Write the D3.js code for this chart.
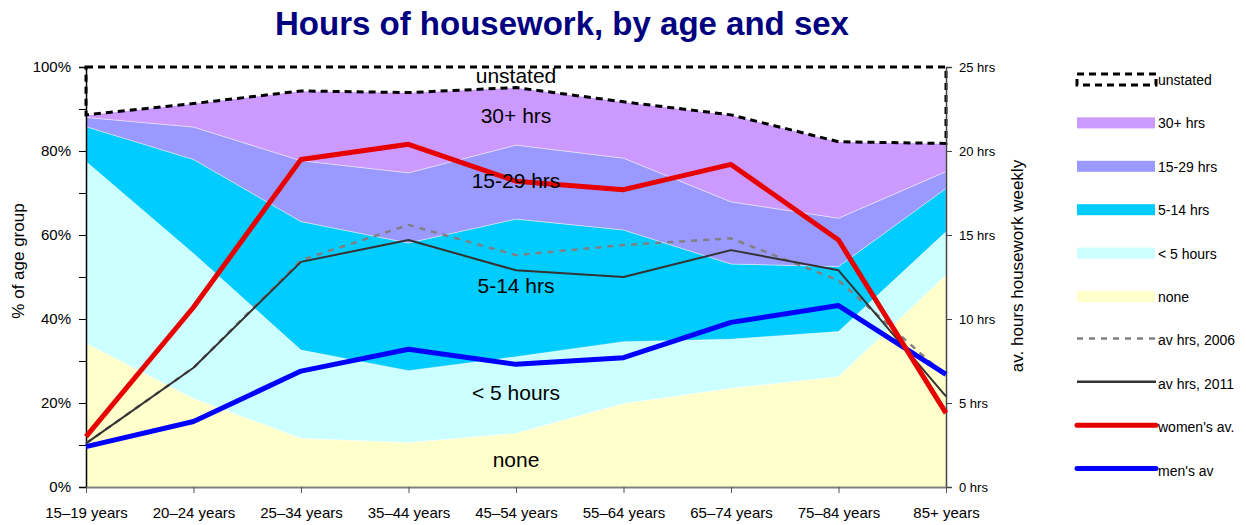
<!DOCTYPE html>
<html>
<head>
<meta charset="utf-8">
<script src="https://cdn.jsdelivr.net/npm/d3@7"></script>
<style>
  body { margin: 0; background: #fff; }
  svg { font-family: "Liberation Sans", Arial, sans-serif; }
</style>
</head>
<body>
<div id="chart"></div>
<script>
const ages = ["15–19 years", "20–24 years", "25–34 years", "35–44 years", "45–54 years",
  "55–64 years", "65–74 years", "75–84 years", "85+ years"];

// % of age group, by weekly hours of housework
const none = [34.2, 21.1, 11.6, 10.6, 12.8, 19.9, 23.5, 26.3, 50.5];
const under5 = [43.3, 34.5, 21.0, 17.1, 18.2, 14.7, 11.7, 10.7, 10.3];
const hrs5to14 = [8.3, 22.4, 30.6, 30.4, 32.8, 26.6, 17.9, 15.5, 10.3];
const hrs15to29 = [2.2, 7.7, 14.5, 16.7, 17.6, 17.1, 14.8, 11.5, 4.0];
const hrs30plus = [0.6, 5.6, 16.6, 19.1, 13.7, 13.4, 20.7, 18.2, 6.7];
const unstated = [11.4, 8.7, 5.7, 6.1, 4.9, 8.3, 11.4, 17.8, 18.2];

// average weekly hours
const avg2006 = [2.6, 7.1, 13.5, 15.6, 13.8, 14.4, 14.8, 12.3, 6.6];
const avg2011 = [2.6, 7.1, 13.4, 14.7, 12.9, 12.5, 14.1, 12.9, 5.4];
const womenAvg = [3.0, 10.7, 19.5, 20.4, 18.2, 17.7, 19.2, 14.7, 4.4];
const menAvg = [2.4, 3.9, 6.9, 8.2, 7.3, 7.7, 9.8, 10.8, 6.7];

const leftTicks = [0, 10, 20, 30, 40, 50, 60, 70, 80, 90, 100];
const rightTicks = [0, 5, 10, 15, 20, 25];

const bands = [
  {key: "none", label: "none", values: none, color: "#ffffcc"},
  {key: "under5", label: "< 5 hours", values: under5, color: "#ccffff"},
  {key: "h5", label: "5-14 hrs", values: hrs5to14, color: "#00ccff"},
  {key: "h15", label: "15-29 hrs", values: hrs15to29, color: "#9999ff"},
  {key: "h30", label: "30+ hrs", values: hrs30plus, color: "#cc99ff"},
  {key: "unstated", label: "unstated", values: unstated, color: "#ffffff"}
];

const lines = [
  {label: "av hrs, 2006", values: avg2006, color: "#808080", width: 2.5, dash: "6,6"},
  {label: "av hrs, 2011", values: avg2011, color: "#333333", width: 2, dash: null},
  {label: "men's av", values: menAvg, color: "#0000ff", width: 5, dash: null},
  {label: "women's av.", values: womenAvg, color: "#e60000", width: 5, dash: null}
];

const width = 1246, height = 525;
const margins = {top: 67, right: 300, bottom: 38, left: 86};

const svg = d3.select("#chart")
  .append("svg")
  .attr("width", width)
  .attr("height", height);

const xScale = d3.scalePoint()
  .domain(ages)
  .range([margins.left, width - margins.right]);

const yScale = d3.scaleLinear()
  .domain([0, 100])
  .range([height - margins.bottom, margins.top]);

const y2Scale = d3.scaleLinear()
  .domain([0, 25])
  .range([height - margins.bottom, margins.top]);

const table = ages.map((age, i) => {
  const row = {age: age};
  bands.forEach(b => row[b.key] = b.values[i]);
  return row;
});

const series = d3.stack()
  .keys(bands.map(b => b.key))(table);

const area = d3.area()
  .x(d => xScale(d.data.age))
  .y0(d => yScale(d[0]))
  .y1(d => yScale(d[1]));

svg.append("g")
  .selectAll("path")
  .data(series.slice(0, 5))
  .join("path")
    .attr("d", area)
    .attr("fill", (d, i) => bands[i].color)
    .attr("stroke", "rgba(255,255,255,0.7)")
    .attr("stroke-width", 0.6);

// unstated: white band with a dashed outline
svg.append("path")
  .datum(series[5])
  .attr("d", d => area(d) + "Z")
  .attr("fill", "#fff")
  .attr("stroke", "#000")
  .attr("stroke-width", 3)
  .attr("stroke-dasharray", "7,5");

// axes
const leftAxis = d3.axisLeft(yScale)
  .tickValues(leftTicks)
  .tickSize(7)
  .tickPadding(8)
  .tickFormat(d => d % 20 == 0 ? d + "%" : "");

svg.append("g")
    .attr("transform", `translate(${margins.left},0)`)
  .call(leftAxis)
  .call(g => g.select(".domain").attr("stroke-width", 1.5))
  .call(g => g.selectAll("text").style("font-size", "15px").attr("fill", "#000"));

const rightAxis = d3.axisRight(y2Scale)
  .tickValues(rightTicks)
  .tickSize(6)
  .tickPadding(7)
  .tickFormat(d => d + " hrs");

svg.append("g")
    .attr("transform", `translate(${width - margins.right},0)`)
  .call(rightAxis)
  .call(g => g.select(".domain").attr("stroke", "#444").attr("stroke-width", 1.5))
  .call(g => g.selectAll("line").attr("stroke", "#444"))
  .call(g => g.selectAll("text").style("font-size", "13px").attr("fill", "#000"));

const bottomAxis = d3.axisBottom(xScale)
  .tickSize(6)
  .tickPadding(14)
  .tickSizeOuter(0);

svg.append("g")
    .attr("transform", `translate(0,${height - margins.bottom})`)
  .call(bottomAxis)
  .call(g => g.select(".domain").attr("stroke", "#808080").attr("stroke-width", 2))
  .call(g => g.selectAll("line").attr("stroke", "#555"))
  .call(g => g.selectAll("text").style("font-size", "15px").attr("fill", "#000"));

// average lines
const line = d3.line()
  .x((d, i) => xScale(ages[i]))
  .y(d => y2Scale(d));

svg.append("g")
  .selectAll("path")
  .data(lines)
  .join("path")
    .attr("d", d => line(d.values))
    .attr("fill", "none")
    .attr("stroke", d => d.color)
    .attr("stroke-width", d => d.width)
    .attr("stroke-dasharray", d => d.dash)
    .attr("stroke-linejoin", "round");

// band labels inside the chart
const bandLabels = [
  {text: "unstated", y: 83},
  {text: "30+ hrs", y: 123},
  {text: "15-29 hrs", y: 188},
  {text: "5-14 hrs", y: 293},
  {text: "< 5 hours", y: 400},
  {text: "none", y: 467}
];

svg.append("g")
  .selectAll("text")
  .data(bandLabels)
  .join("text")
    .attr("x", xScale(ages[4]))
    .attr("y", d => d.y)
    .attr("text-anchor", "middle")
    .style("font-size", "21px")
    .text(d => d.text);

// title and axis titles
svg.append("text")
  .attr("x", 562)
  .attr("y", 35)
  .attr("text-anchor", "middle")
  .style("font-size", "33px")
  .style("font-weight", "bold")
  .attr("fill", "#000080")
  .text("Hours of housework, by age and sex");

svg.append("text")
  .attr("transform", "translate(24,261) rotate(-90)")
  .attr("text-anchor", "middle")
  .style("font-size", "17px")
  .text("% of age group");

svg.append("text")
  .attr("transform", "translate(1023,266) rotate(-90)")
  .attr("text-anchor", "middle")
  .style("font-size", "17px")
  .text("av. hours housework weekly");

// legend
const legendItems = [
  {label: "unstated", type: "dashbox"},
  {label: "30+ hrs", type: "rect", color: "#cc99ff"},
  {label: "15-29 hrs", type: "rect", color: "#9999ff"},
  {label: "5-14 hrs", type: "rect", color: "#00ccff"},
  {label: "< 5 hours", type: "rect", color: "#ccffff"},
  {label: "none", type: "rect", color: "#ffffcc"},
  {label: "av hrs, 2006", type: "line", color: "#808080", width: 2.5, dash: "6,6"},
  {label: "av hrs, 2011", type: "line", color: "#333333", width: 2.5},
  {label: "women's av.", type: "line", color: "#e60000", width: 5},
  {label: "men's av", type: "line", color: "#0000ff", width: 5}
];

const legend = svg.append("g")
  .selectAll("g")
  .data(legendItems)
  .join("g")
    .attr("transform", (d, i) => `translate(1077,${80 + i * 43.4})`);

legend.filter(d => d.type == "dashbox")
  .append("rect")
    .attr("x", 0).attr("y", -6)
    .attr("width", 79).attr("height", 11)
    .attr("fill", "#fff")
    .attr("stroke", "#000")
    .attr("stroke-width", 3)
    .attr("stroke-dasharray", "7,5");

legend.filter(d => d.type == "rect")
  .append("rect")
    .attr("x", 0).attr("y", -6)
    .attr("width", 78).attr("height", 11)
    .attr("fill", d => d.color);

legend.filter(d => d.type == "line")
  .append("line")
    .attr("x1", 0).attr("x2", 79)
    .attr("y1", -2).attr("y2", -2)
    .attr("stroke", d => d.color)
    .attr("stroke-width", d => d.width)
    .attr("stroke-dasharray", d => d.dash || null)
    .attr("stroke-linecap", d => d.width > 4 ? "round" : "butt");

legend.append("text")
  .attr("x", 81)
  .attr("y", 5)
  .style("font-size", "14px")
  .text(d => d.label);
</script>
</body>
</html>
